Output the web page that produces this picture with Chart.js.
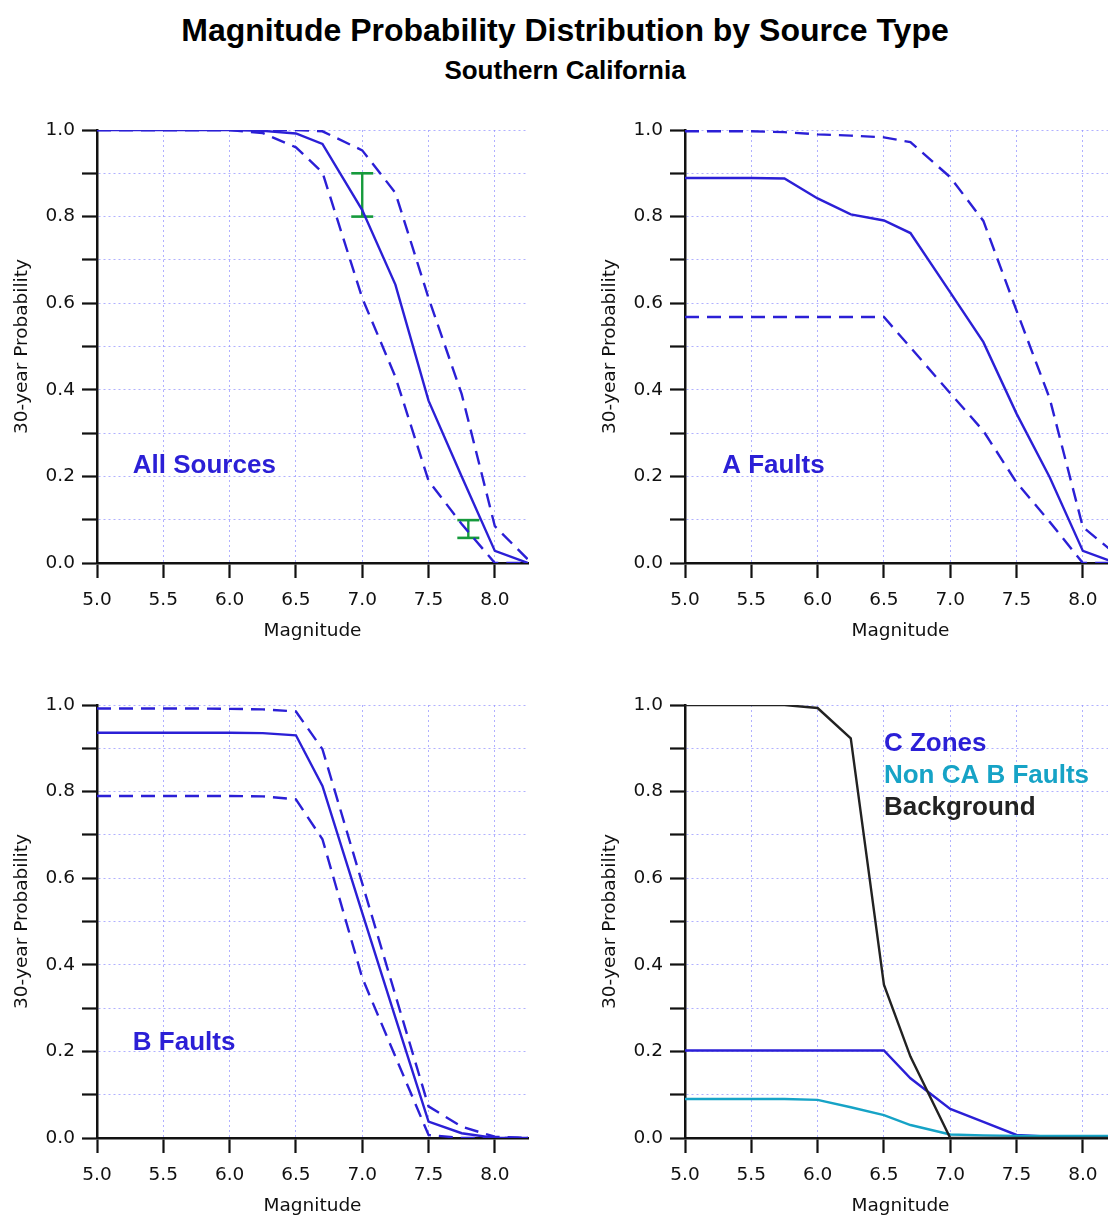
<!DOCTYPE html>
<html lang="en">
<head>
<meta charset="utf-8">
<title>Magnitude Probability Distribution by Source Type</title>
<script src="https://cdn.jsdelivr.net/npm/chart.js@4.4.1/dist/chart.umd.min.js"></script>
<style>
    html, body {
        margin: 0;
        padding: 0;
        width: 1108px;
        height: 1217px;
        overflow: hidden;
        background: #fff;
    }
    .titre {
        position: absolute;
        left: 0;
        width: 1130px;
        text-align: center;
        font-family: "Liberation Sans", Arial, sans-serif;
        font-weight: bold;
        color: #000;
    }
    #titre { top: 12px; font-size: 32px; line-height: 36px; }
    #sousTitre { top: 55px; font-size: 26px; line-height: 30px; }
    canvas { position: absolute; }
</style>
</head>
<body>
<div id="titre" class="titre">Magnitude Probability Distribution by Source Type</div>
<div id="sousTitre" class="titre">Southern California</div>
<canvas id="allChart" width="545" height="543" style="left:0;top:100px"></canvas>
<canvas id="aFaultsChart" width="545" height="543" style="left:588px;top:100px"></canvas>
<canvas id="bFaultsChart" width="545" height="543" style="left:0;top:675px"></canvas>
<canvas id="otherChart" width="545" height="543" style="left:588px;top:675px"></canvas>
<script>
// Magnitudes communes à toutes les courbes
const magnitudes = [5.0, 5.25, 5.5, 5.75, 6.0, 6.25, 6.5, 6.7, 7.0, 7.25, 7.5, 7.75, 8.0, 8.25];

// Toutes sources : moyenne et bornes
const allMean  = [1.0, 1.0, 1.0, 1.0, 1.0, 0.998, 0.992, 0.968, 0.815, 0.643, 0.375, 0.200, 0.028, 0.0];
const allUpper = [1.0, 1.0, 1.0, 1.0, 1.0, 1.0, 1.0, 0.997, 0.953, 0.855, 0.612, 0.390, 0.085, 0.008];
const allLower = [1.0, 1.0, 1.0, 1.0, 1.0, 0.993, 0.960, 0.902, 0.612, 0.430, 0.190, 0.090, 0.0, 0.0];

// Barres d'erreur (toutes sources)
const errMags = [7.0, 7.8];
const errLow  = [0.80, 0.058];
const errHigh = [0.90, 0.099];

// Failles A
const aMean  = [0.889, 0.889, 0.889, 0.888, 0.842, 0.805, 0.791, 0.762, 0.625, 0.510, 0.345, 0.198, 0.028, 0.0];
const aUpper = [0.997, 0.997, 0.997, 0.995, 0.990, 0.987, 0.983, 0.972, 0.891, 0.790, 0.583, 0.380, 0.083, 0.020];
const aLower = [0.568, 0.568, 0.568, 0.568, 0.568, 0.568, 0.568, 0.498, 0.392, 0.305, 0.186, 0.095, 0.0, 0.0];

// Failles B
const bMean  = [0.936, 0.936, 0.936, 0.936, 0.936, 0.935, 0.930, 0.813, 0.520, 0.278, 0.038, 0.011, 0.0, 0.0];
const bUpper = [0.992, 0.992, 0.992, 0.992, 0.991, 0.990, 0.985, 0.898, 0.588, 0.330, 0.073, 0.026, 0.003, 0.0];
const bLower = [0.790, 0.790, 0.790, 0.790, 0.790, 0.789, 0.782, 0.690, 0.370, 0.188, 0.007, 0.0, 0.0, 0.0];

// Zones C, failles B hors Californie, sismicité de fond
const cZones     = [0.202, 0.202, 0.202, 0.202, 0.202, 0.202, 0.202, 0.138, 0.067, 0.037, 0.007, 0.003, 0.002, 0.002];
const nonCaB     = [0.090, 0.090, 0.090, 0.090, 0.088, 0.071, 0.053, 0.030, 0.008, 0.006, 0.005, 0.005, 0.005, 0.005];
const background = [1.0, 1.0, 1.0, 1.0, 0.993, 0.923, 0.354, 0.188, 0.0, 0.0, 0.0, 0.0, 0.0, 0.0];

// Graduations
const xTicks = [5.0, 5.5, 6.0, 6.5, 7.0, 7.5, 8.0];
const yLabels = [0.0, 0.2, 0.4, 0.6, 0.8, 1.0];

const BLUE = '#2b1fd6';
const CYAN = '#16a3c6';
const DARK = '#222222';
const GREEN = '#169a3c';

// Transforme une série en points {x, y}
function points(values) {
    return values.map((v, i) => ({ x: magnitudes[i], y: v }));
}

function ligne(values, color, dashed) {
    return {
        data: points(values),
        borderColor: color,
        borderWidth: 2.4,
        borderDash: dashed ? [14, 8] : [],
        pointRadius: 0,
        tension: 0
    };
}

function barreErreur(i) {
    return {
        data: [{ x: errMags[i], y: errLow[i] }, { x: errMags[i], y: errHigh[i] }],
        borderColor: GREEN,
        borderWidth: 2.4,
        pointStyle: 'line',
        pointRadius: 11,
        pointBorderColor: GREEN,
        pointBorderWidth: 2.6,
        pointHoverRadius: 11
    };
}

// Textes posés dans la zone de tracé (coordonnées en unités des axes)
const panelLabels = {
    id: 'panelLabels',
    afterDatasetsDraw(chart, args, opts) {
        const { ctx, scales: { x, y } } = chart;
        ctx.save();
        ctx.font = 'bold 26px "Liberation Sans", Arial, sans-serif';
        ctx.textBaseline = 'middle';
        ctx.textAlign = 'left';
        (opts.items || []).forEach(item => {
            ctx.fillStyle = item.color;
            ctx.fillText(item.text, x.getPixelForValue(item.x), y.getPixelForValue(item.y));
        });
        ctx.restore();
    }
};

const tickFont = { family: '"DejaVu Sans", Verdana, sans-serif', size: 18.5 };
const titleFont = { family: '"DejaVu Sans", Verdana, sans-serif', size: 18.5 };
const gridColor = 'rgba(150, 150, 255, 0.75)';

// Options communes aux quatre graphiques
function panelOptions(labels) {
    return {
        responsive: false,
        animation: false,
        devicePixelRatio: 1,
        layout: { padding: { top: 30, right: 17, bottom: 0, left: 0 } },
        plugins: {
            legend: { display: false },
            tooltip: { enabled: false },
            panelLabels: { items: labels }
        },
        scales: {
            x: {
                type: 'linear',
                min: 5.0,
                max: 8.25,
                afterFit: scale => { scale.height = 80; },
                afterBuildTicks: scale => { scale.ticks = xTicks.map(v => ({ value: v })); },
                ticks: {
                    callback: v => v.toFixed(1),
                    font: tickFont,
                    color: '#111',
                    padding: 11,
                    maxRotation: 0,
                    autoSkip: false
                },
                grid: {
                    color: gridColor,
                    lineWidth: 1,
                    tickColor: '#111',
                    tickWidth: 2.2,
                    tickLength: 15
                },
                border: { color: '#111', width: 2.5, dash: [2, 3] },
                title: {
                    display: true,
                    text: 'Magnitude',
                    font: titleFont,
                    color: '#111',
                    padding: { top: 0, bottom: 1 }
                }
            },
            y: {
                type: 'linear',
                min: 0,
                max: 1,
                afterFit: scale => { scale.width = 97; },
                ticks: {
                    stepSize: 0.1,
                    callback: v => (yLabels.some(l => Math.abs(l - v) < 1e-6) ? v.toFixed(1) : ''),
                    font: tickFont,
                    color: '#111',
                    padding: 7,
                    autoSkip: false
                },
                grid: {
                    color: gridColor,
                    lineWidth: 1,
                    tickColor: '#111',
                    tickWidth: 2.2,
                    tickLength: 15
                },
                border: { color: '#111', width: 2.5, dash: [2, 3] },
                title: {
                    display: true,
                    text: '30-year Probability',
                    font: titleFont,
                    color: '#111',
                    padding: { top: 11, bottom: 0 }
                }
            }
        }
    };
}

// Graphique toutes sources
new Chart(document.getElementById('allChart').getContext('2d'), {
    type: 'line',
    data: {
        datasets: [
            ligne(allUpper, BLUE, true),
            ligne(allLower, BLUE, true),
            ligne(allMean, BLUE, false),
            barreErreur(0),
            barreErreur(1)
        ]
    },
    options: panelOptions([{ text: 'All Sources', color: BLUE, x: 5.27, y: 0.224 }]),
    plugins: [panelLabels]
});

// Graphique des failles A
new Chart(document.getElementById('aFaultsChart').getContext('2d'), {
    type: 'line',
    data: {
        datasets: [
            ligne(aUpper, BLUE, true),
            ligne(aLower, BLUE, true),
            ligne(aMean, BLUE, false)
        ]
    },
    options: panelOptions([{ text: 'A Faults', color: BLUE, x: 5.28, y: 0.224 }]),
    plugins: [panelLabels]
});

// Graphique des failles B
new Chart(document.getElementById('bFaultsChart').getContext('2d'), {
    type: 'line',
    data: {
        datasets: [
            ligne(bUpper, BLUE, true),
            ligne(bLower, BLUE, true),
            ligne(bMean, BLUE, false)
        ]
    },
    options: panelOptions([{ text: 'B Faults', color: BLUE, x: 5.27, y: 0.22 }]),
    plugins: [panelLabels]
});

// Zones C, failles B hors CA et fond
new Chart(document.getElementById('otherChart').getContext('2d'), {
    type: 'line',
    data: {
        datasets: [
            ligne(background, DARK, false),
            ligne(nonCaB, CYAN, false),
            ligne(cZones, BLUE, false)
        ]
    },
    options: panelOptions([
        { text: 'C Zones', color: BLUE, x: 6.5, y: 0.91 },
        { text: 'Non CA B Faults', color: CYAN, x: 6.5, y: 0.836 },
        { text: 'Background', color: DARK, x: 6.5, y: 0.762 }
    ]),
    plugins: [panelLabels]
});
</script>
</body>
</html>
